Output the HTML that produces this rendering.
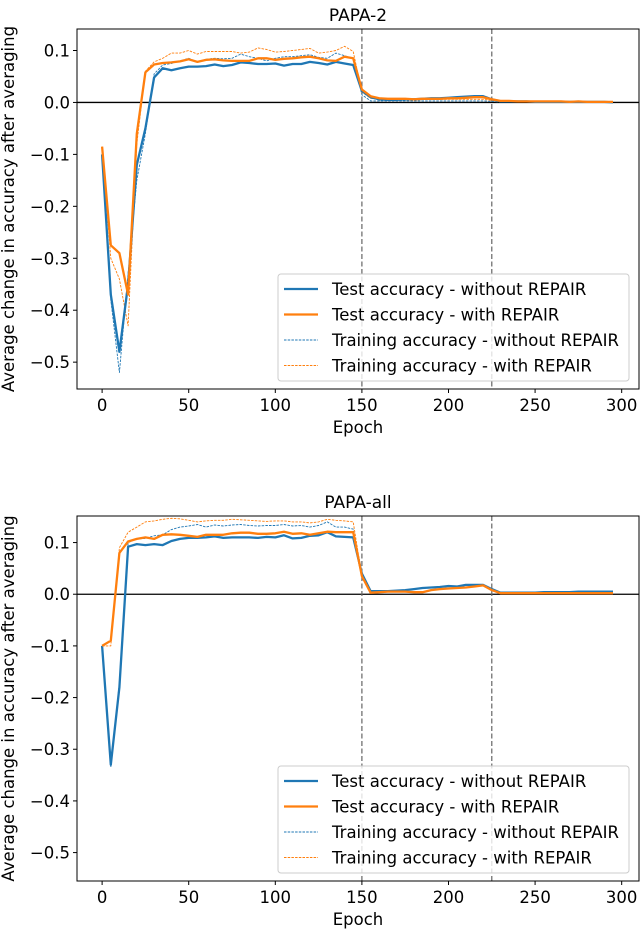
<!DOCTYPE html>
<html><head><meta charset="utf-8"><style>
body{margin:0;background:#fff}
svg{display:block;font-family:"DejaVu Sans","Liberation Sans",sans-serif}
</style></head><body>
<svg id="fig" width="640" height="934" viewBox="0 0 640 934"></svg>
<script>
const epochs = Array.from({length:60},(_,i)=>i*5);
const xTicks = [0,50,100,150,200,250,300];
const yTicks = [-0.5,-0.4,-0.3,-0.2,-0.1,0.0,0.1];
const yTickLabels = ["\u22120.5","\u22120.4","\u22120.3","\u22120.2","\u22120.1","0.0","0.1"];
const phaseLines = [150,225];
const legendLabels = ["Test accuracy - without REPAIR","Test accuracy - with REPAIR","Training accuracy - without REPAIR","Training accuracy - with REPAIR"];

const p2TestNo = [-0.10,-0.37,-0.48,-0.35,-0.12,-0.05,0.048,0.066,0.062,0.066,0.069,0.069,0.070,0.073,0.070,0.072,0.077,0.076,0.074,0.074,0.075,0.071,0.074,0.074,0.078,0.076,0.073,0.078,0.075,0.072,0.022,0.010,0.006,0.005,0.005,0.006,0.006,0.007,0.008,0.008,0.009,0.010,0.011,0.012,0.012,0.006,0.002,0.002,0.002,0.002,0.001,0.001,0.001,0.001,0.001,0.001,0.001,0.001,0.001,0.000];
const p2TestRep = [-0.085,-0.275,-0.29,-0.37,-0.06,0.058,0.073,0.076,0.077,0.079,0.083,0.078,0.082,0.083,0.081,0.080,0.080,0.080,0.085,0.085,0.082,0.084,0.085,0.087,0.088,0.085,0.081,0.080,0.088,0.085,0.025,0.012,0.008,0.007,0.007,0.007,0.006,0.007,0.007,0.007,0.008,0.008,0.009,0.010,0.010,0.006,0.003,0.003,0.002,0.002,0.002,0.002,0.002,0.002,0.001,0.002,0.001,0.001,0.001,0.001];
const p2TrainNo = [-0.10,-0.38,-0.52,-0.33,-0.15,-0.06,0.055,0.072,0.075,0.080,0.085,0.078,0.083,0.085,0.084,0.085,0.093,0.088,0.085,0.080,0.085,0.088,0.088,0.090,0.092,0.087,0.085,0.095,0.090,0.085,0.015,0.003,0.003,0.003,0.003,0.003,0.003,0.003,0.003,0.003,0.003,0.003,0.003,0.003,0.003,0.002,0.001,0.001,0.001,0.001,0.001,0.001,0.001,0.001,0.001,0.001,0.001,0.001,0.001,0.000];
const p2TrainRep = [-0.085,-0.30,-0.34,-0.43,-0.08,0.06,0.078,0.085,0.095,0.095,0.100,0.093,0.098,0.098,0.098,0.098,0.095,0.097,0.105,0.102,0.097,0.098,0.100,0.102,0.104,0.095,0.097,0.100,0.108,0.098,0.020,0.008,0.006,0.006,0.006,0.006,0.006,0.006,0.006,0.006,0.006,0.006,0.006,0.006,0.006,0.004,0.002,0.002,0.002,0.002,0.002,0.002,0.002,0.002,0.002,0.002,0.002,0.002,0.001,0.001];

const paTestNo = [-0.10,-0.33,-0.18,0.092,0.097,0.095,0.097,0.095,0.103,0.107,0.109,0.109,0.110,0.112,0.109,0.110,0.110,0.110,0.109,0.111,0.110,0.114,0.108,0.109,0.113,0.114,0.120,0.112,0.111,0.110,0.040,0.006,0.006,0.006,0.007,0.008,0.010,0.012,0.013,0.014,0.016,0.015,0.018,0.018,0.018,0.010,0.003,0.003,0.003,0.003,0.003,0.004,0.004,0.004,0.004,0.005,0.005,0.005,0.005,0.005];
const paTestRep = [-0.10,-0.09,0.08,0.102,0.107,0.110,0.107,0.115,0.116,0.115,0.113,0.111,0.115,0.115,0.115,0.118,0.119,0.119,0.117,0.117,0.118,0.121,0.117,0.118,0.115,0.118,0.121,0.120,0.120,0.120,0.035,0.003,0.004,0.005,0.005,0.005,0.004,0.004,0.008,0.010,0.011,0.012,0.013,0.015,0.017,0.008,0.002,0.002,0.002,0.002,0.002,0.002,0.002,0.002,0.002,0.002,0.002,0.002,0.002,0.002];
const paTrainNo = [-0.10,-0.335,-0.17,0.100,0.107,0.108,0.113,0.115,0.125,0.130,0.132,0.135,0.130,0.134,0.132,0.134,0.135,0.133,0.132,0.133,0.133,0.135,0.132,0.133,0.130,0.133,0.140,0.130,0.130,0.126,0.040,0.006,0.006,0.006,0.007,0.008,0.010,0.012,0.013,0.014,0.016,0.015,0.018,0.018,0.018,0.010,0.003,0.003,0.003,0.003,0.003,0.004,0.004,0.004,0.004,0.005,0.005,0.005,0.005,0.005];
const paTrainRep = [-0.10,-0.10,0.09,0.12,0.13,0.140,0.142,0.145,0.147,0.146,0.143,0.140,0.142,0.143,0.143,0.145,0.144,0.143,0.142,0.141,0.142,0.142,0.140,0.140,0.138,0.140,0.145,0.143,0.142,0.140,0.035,0.004,0.004,0.005,0.005,0.005,0.004,0.004,0.008,0.010,0.011,0.012,0.013,0.015,0.017,0.008,0.002,0.002,0.002,0.002,0.002,0.002,0.002,0.002,0.002,0.002,0.002,0.002,0.002,0.002];

const NS="http://www.w3.org/2000/svg";
const svg=document.getElementById('fig');
function mk(tag,attrs,parent){const e=document.createElementNS(NS,tag);for(const k in attrs)e.setAttribute(k,attrs[k]);(parent||svg).appendChild(e);return e;}

function drawChart(title,top,bottom,yMin,yMax,series,prefix){
  const L=77,R=639,T=top,B=bottom;
  const xMin=-14.5,xMax=310;
  const xs=v=>L+(v-xMin)/(xMax-xMin)*(R-L);
  const ys=v=>B-(v-yMin)/(yMax-yMin)*(B-T);
  const g=mk('g',{});
  
  
  const t=mk('text',{x:(L+R)/2,y:T-8,'text-anchor':'middle','font-size':17},g);
  t.textContent=title;
  
  
  const z=mk('line',{x1:L,x2:R,y1:ys(0),y2:ys(0),stroke:'#000','stroke-width':1.3},g);
  
  
  phaseLines.forEach(p=>{
    const l=mk('line',{x1:xs(p),x2:xs(p),y1:T,y2:B,stroke:'#666','stroke-width':1.2,'stroke-dasharray':'5,2.5'},g);
    
    
  });
  const styles=[
    {c:'#1f77b4',w:2.3,d:null,n:'test-without-repair'},
    {c:'#ff7f0e',w:2.3,d:null,n:'test-with-repair'},
    {c:'#1f77b4',w:0.9,d:'2.5,1.2',n:'train-without-repair'},
    {c:'#ff7f0e',w:0.9,d:'2.5,1.2',n:'train-with-repair'}];
  [2,3,0,1].forEach(i=>{
    const s=styles[i];
    const pts=series[i].map((v,k)=>xs(epochs[k]).toFixed(1)+','+ys(v).toFixed(1)).join(' ');
    const a={points:pts,fill:'none',stroke:s.c,'stroke-width':s.w,'stroke-linejoin':'round'};
    if(s.d)a['stroke-dasharray']=s.d;
    const pl=mk('polyline',a,g);
    
    
  });
  const fr=mk('rect',{x:L,y:T,width:R-L,height:B-T,fill:'none',stroke:'#000','stroke-width':1},g);
  
  
  xTicks.forEach(v=>{
    mk('line',{x1:xs(v),x2:xs(v),y1:B,y2:B+4,stroke:'#000'},g);
    const tx=mk('text',{x:xs(v),y:B+22,'text-anchor':'middle','font-size':16.5},g);
    tx.textContent=v;
    
    
  });
  yTicks.forEach((v,i)=>{
    mk('line',{x1:L-4,x2:L,y1:ys(v),y2:ys(v),stroke:'#000'},g);
    const ty=mk('text',{x:L-7,y:ys(v)+6,'text-anchor':'end','font-size':16.5},g);
    ty.textContent=yTickLabels[i];
    
    
  });
  const xl=mk('text',{x:(L+R)/2,y:B+44,'text-anchor':'middle','font-size':16.5},g);
  xl.textContent='Epoch';
  
  
  const cy=(T+B)/2;
  const yl=mk('text',{x:14,y:cy,'text-anchor':'middle','font-size':16.5,transform:'rotate(-90 14 '+cy+')'},g);
  yl.textContent='Average change in accuracy after averaging';
  
  
  const lt=B-115;
  const lg=mk('g',{},g);
  
  
  mk('rect',{x:278,y:lt,width:351,height:107,rx:3,fill:'#fff','fill-opacity':0.8,stroke:'#ccc'},lg);
  legendLabels.forEach((lab,i)=>{
    const s=styles[i],yy=lt+15+i*25.5;
    const a={x1:284,x2:318,y1:yy,y2:yy,stroke:s.c,'stroke-width':s.w};
    if(s.d)a['stroke-dasharray']=s.d;
    mk('line',a,lg);
    const tt=mk('text',{x:332,y:yy+6,'font-size':16.5},lg);
    tt.textContent=lab;
    
    
  });
}
drawChart('PAPA-2',29,389,-0.5517,0.1414,[p2TestNo,p2TestRep,p2TrainNo,p2TrainRep],'papa-2');
drawChart('PAPA-all',516,881,-0.555,0.1514,[paTestNo,paTestRep,paTrainNo,paTrainRep],'papa-all');
</script>
</body></html>
